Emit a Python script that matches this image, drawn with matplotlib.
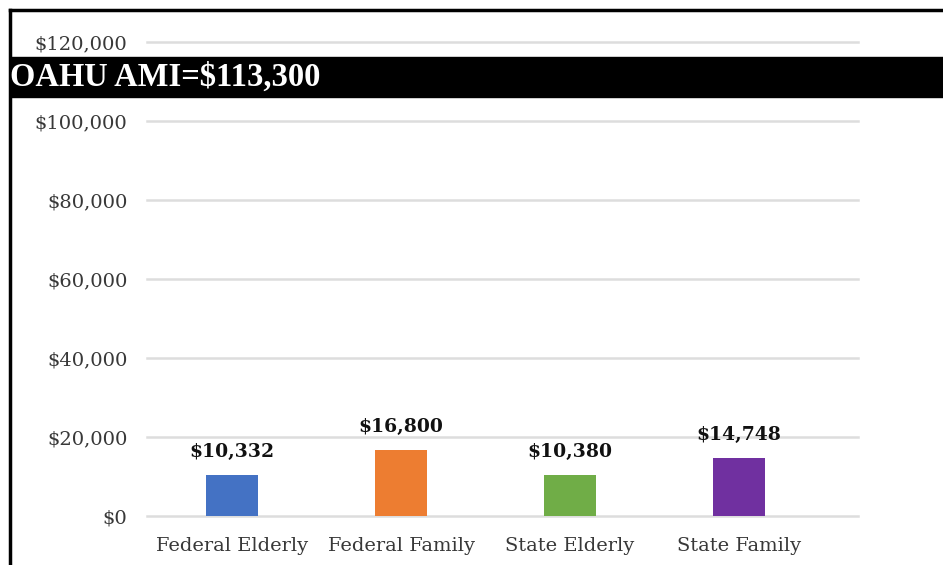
import matplotlib.pyplot as plt
from matplotlib.lines import Line2D
from matplotlib.patches import Rectangle
from matplotlib.ticker import FuncFormatter

plt.rcParams['font.family'] = ['DejaVu Serif']

# data
categories = ['Federal Elderly', 'Federal Family', 'State Elderly', 'State Family']
incomes = [10332, 16800, 10380, 14748]
colors = ['#4472C4', '#ED7D31', '#70AD47', '#7030A0']
banner_text = 'OAHU AMI=$113,300'

W, H = 943, 565
fig = plt.figure(figsize=(W / 100, H / 100), dpi=100)

# plot area in pixels: x 147..858, y 42..516
ax = fig.add_axes([147 / W, 1 - 516 / H, (858 - 147) / W, (516 - 42) / H])

x = range(len(categories))
ax.bar(x, incomes, width=0.31, color=colors, zorder=3)

for xi, v in zip(x, incomes):
    ax.annotate(f'${v:,}', (xi, v), xytext=(0, 10), textcoords='offset points',
                ha='center', va='bottom', fontsize=13.5, fontweight='bold', color='#111111')

ax.set_ylim(0, 120000)
ax.set_yticks(range(0, 120001, 20000))
ax.yaxis.set_major_formatter(FuncFormatter(lambda v, p: f'${v:,.0f}'))
ax.set_xlim(-0.503, 3.704)
ax.set_xticks(list(x))
ax.set_xticklabels(categories)

ax.grid(axis='y', color='#dddddd', linewidth=1.8, zorder=0)
for gl in ax.get_ygridlines():
    gl.set_clip_on(False)
for s in ax.spines.values():
    s.set_visible(False)
ax.tick_params(length=0, labelsize=14, colors='#383838')
ax.tick_params(axis='y', pad=14)
ax.tick_params(axis='x', pad=15)

# black banner with the area median income
fig.patches.append(Rectangle((10 / W, 1 - 97 / H), 1 - 10 / W, 40 / H,
                             transform=fig.transFigure, color='black', zorder=5))
fig.text(10 / W, 1 - 77 / H, banner_text, color='white', fontsize=23.5,
         fontweight='bold', family='Liberation Serif', va='center', ha='left', zorder=6)

# outer frame (top and left edges)
fig.add_artist(Line2D([10 / W, 1], [1 - 10 / H, 1 - 10 / H], color='black', lw=2.5))
fig.add_artist(Line2D([10 / W, 10 / W], [1 - 10 / H, 0], color='black', lw=2.5))

fig.savefig('out.png', dpi=100)
